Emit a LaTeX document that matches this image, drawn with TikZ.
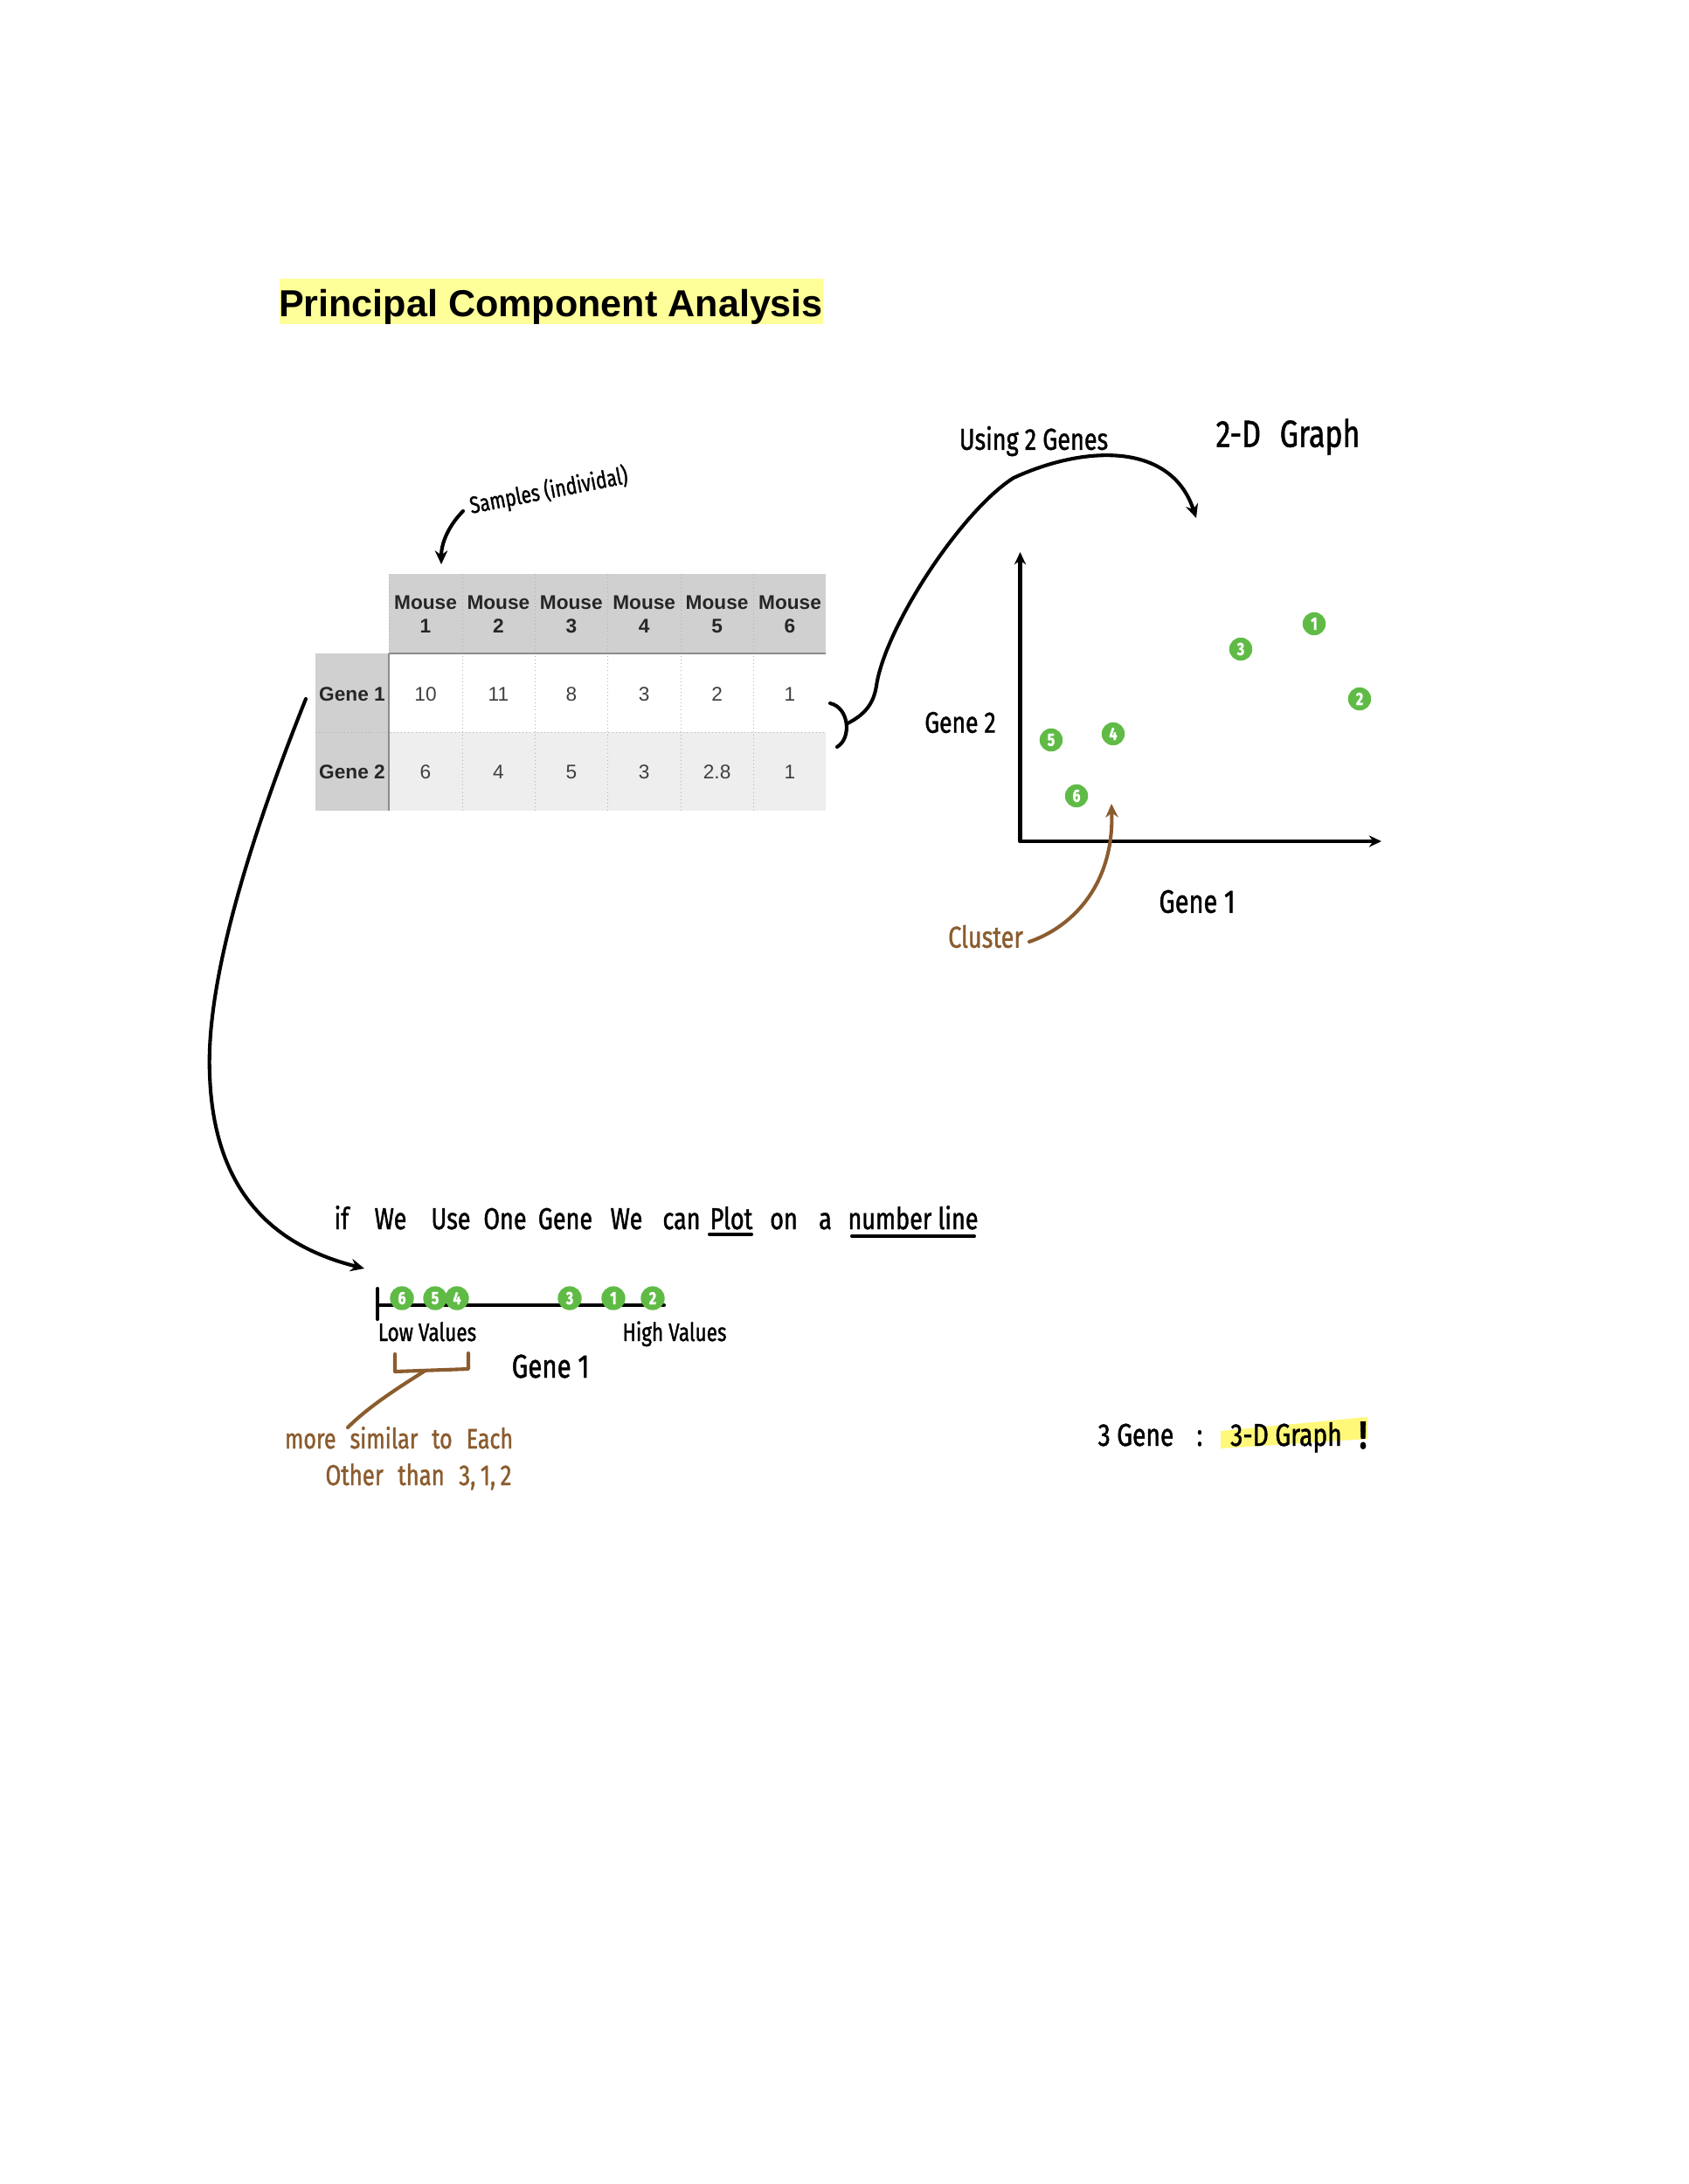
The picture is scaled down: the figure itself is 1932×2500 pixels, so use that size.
\documentclass[tikz,border=0pt]{standalone}
\usepackage{fontspec}
\setmainfont{Liberation Sans}
\newfontfamily\handfont[FakeStretch=0.78, FakeBold=1.2]{Fira Sans}
\usetikzlibrary{arrows.meta, positioning}

\definecolor{titleyellow}{RGB}{255,255,153}
\definecolor{markyellow}{RGB}{255,248,120}
\definecolor{hdrgray}{RGB}{208,208,208}
\definecolor{rowgray}{RGB}{238,238,238}
\definecolor{ptgreen}{RGB}{96,187,70}
\definecolor{penbrown}{RGB}{139,92,46}

\begin{document}
\begin{tikzpicture}[
  x=0.011175cm, y=-0.011175cm,
  hand/.style={font=\handfont\fontsize{#1}{#1}\selectfont, inner sep=0pt},
  hdr/.style={font=\bfseries\fontsize{7.2pt}{8.6pt}\selectfont, align=center,
              text=black!85, inner sep=0pt},
  cell/.style={font=\fontsize{7.2pt}{8.6pt}\selectfont, text=black!75, inner sep=0pt},
  dot/.style={circle, fill=ptgreen, inner sep=0pt, minimum size=8.4pt,
              text=white, font=\handfont\bfseries\fontsize{6.5pt}{6.5pt}\selectfont},
  pen/.style={line width=1.3pt, line cap=round, line join=round},
  arrow/.style={pen, -{Stealth[length=5pt, width=4.6pt]}},
  grid/.style={black!30, densely dotted, line width=0.3pt}
]
\useasboundingbox (0,0) rectangle (1932,2500);

% title
\fill[titleyellow] (320,319) rectangle (941.5,371);
\node[font=\bfseries\fontsize{13.7pt}{16pt}\selectfont, anchor=base, inner sep=0pt]
  (title) at (630.5,362) {Principal Component Analysis};

% table
\fill[hdrgray] (445,657) rectangle (945,748);
\fill[hdrgray] (361,748) rectangle (445,928);
\fill[rowgray] (445,838) rectangle (945,928);
\foreach \x in {529,612,695,779,862}
  \draw[grid] (\x,657) -- (\x,928);
\draw[grid] (361,838) -- (945,838);
\draw[grid] (445,657) -- (445,748);
\draw[black!45, line width=0.5pt] (445,748) -- (945,748);
\draw[black!45, line width=0.5pt] (445,748) -- (445,928);

\foreach \i in {1,...,6}
  \node[hdr] (m\i) at ({487+83.4*(\i-1)},703) {Mouse\\\i};
\node[hdr] (g1) at (403,795) {Gene 1};
\node[hdr] (g2) at (403,884) {Gene 2};
\foreach \v [count=\i] in {10,11,8,3,2,1}
  \node[cell] (a\i) at ({487+83.4*(\i-1)},795) {\v};
\foreach \v [count=\i] in {6,4,5,3,2.8,1}
  \node[cell] (b\i) at ({487+83.4*(\i-1)},884) {\v};

% samples note
\node[hand=8.6pt, rotate=11] (samples) at (628,562) {Samples (individal)};
\coordinate (sampstart) at (530,585);
\coordinate (sampend) at (505,646);
\draw[arrow] (sampstart) .. controls (515,600) and (505,620) .. (sampend);

% bracket and arc to the 2-D graph
\draw[pen] (950,805) .. controls (972,810) and (975,845) .. (958,855);
\coordinate (brk) at (970,828);
\coordinate (twod) at (1369,593);
\draw[arrow] (brk) .. controls (990,818) and (1000,805) .. (1003,785)
  .. controls (1013,718) and (1100,585) .. (1160,547)
  .. controls (1240,510) and (1340,505) .. (twod);
\node[hand=11pt] (using) at (1183,505) {Using 2 Genes};
\node[hand=13.8pt] (graphtitle) at (1474,500) {2-D\enspace Graph};

% 2-D graph
\coordinate (origin) at (1167.5,963);
\coordinate (ytop) at (1167.5,632);
\coordinate (xend) at (1581,963);
\draw[pen, -{Stealth[length=4.5pt, width=4.2pt]}] (origin) -- (ytop);
\draw[pen, -{Stealth[length=4.5pt, width=4.2pt]}] (origin) -- (xend);
\node[hand=10.8pt] (yname) at (1099,827) {Gene 2};
\node[hand=11.8pt] (xname) at (1370,1032) {Gene 1};
\foreach \n/\px/\py in {1/1504/714, 2/1556/800, 3/1420/743,
                        4/1274/840, 5/1203/847, 6/1232/911}
  \node[dot] (p\n) at (\px,\py) {\n};

% cluster note
\node[hand=11pt, text=penbrown] (cluster) at (1128,1072) {Cluster};
\coordinate (clstart) at (1178,1078);
\coordinate (clend) at (1272,920);
\draw[arrow, penbrown] (clstart) .. controls (1230,1060) and (1275,1010) .. (clend);

% arrow down to the number line
\coordinate (genestart) at (350,800);
\coordinate (lineend) at (417,1452);
\draw[arrow] (genestart) .. controls (290,950) and (235,1120) .. (240,1230)
  .. controls (245,1380) and (330,1430) .. (lineend);

% sentence
\foreach \w/\x [count=\i] in {if/391, We/447, Use/516, One/578, Gene/647, We/717,
                              can/780, Plot/837, on/897, a/944.5, number line/1045}
  \node[hand=11pt, anchor=base] (w\i) at (\x,1407) {\w};
\draw[pen] (812,1413) -- (860,1413);
\draw[pen] (975,1415) -- (1115,1415);

% number line
\coordinate (nlstart) at (432,1494);
\coordinate (nlend) at (760,1494);
\draw[pen] (432,1475) -- (432,1510);
\draw[pen] (nlstart) -- (nlend);
\foreach \n/\px in {6/460, 5/498, 4/523, 3/652, 1/702, 2/747}
  \node[dot, minimum size=8.7pt] (q\n) at (\px,1486) {\n};
\node[hand=9.2pt, anchor=base] (low) at (489,1535) {Low Values};
\node[hand=9.2pt, anchor=base] (high) at (772,1535) {High Values};
\node[hand=12pt, anchor=base] (nlname) at (630,1577) {Gene 1};

% similarity note
\draw[pen, penbrown] (452,1550) -- (452,1570) -- (536,1567) -- (536,1549);
\coordinate (brace) at (485,1570);
\coordinate (simend) at (398,1634);
\draw[pen, penbrown] (brace) .. controls (450,1592) and (420,1612) .. (simend);
\node[hand=10.2pt, anchor=base, text=penbrown] (sim1) at (456.5,1658) {more\enspace similar\enspace to\enspace Each};
\node[hand=10.5pt, anchor=base, text=penbrown] (sim2) at (479,1700) {Other\enspace than\enspace 3,\,1,\,2};

% three genes
\fill[markyellow] (1397,1638) -- (1565,1622) -- (1565,1647) -- (1397,1658) -- cycle;
\node[hand=11.5pt, anchor=base] (three) at (1300,1655) {3 Gene};
\node[hand=11.5pt, anchor=base] (colon) at (1373,1655) {:};
\node[hand=11.5pt, anchor=base] (threed) at (1472,1655) {3-D Graph};
\node[hand=14pt, anchor=base, font=\handfont\bfseries\fontsize{14pt}{14pt}\selectfont] (bang) at (1560,1658) {!};

\end{tikzpicture}
\end{document}
